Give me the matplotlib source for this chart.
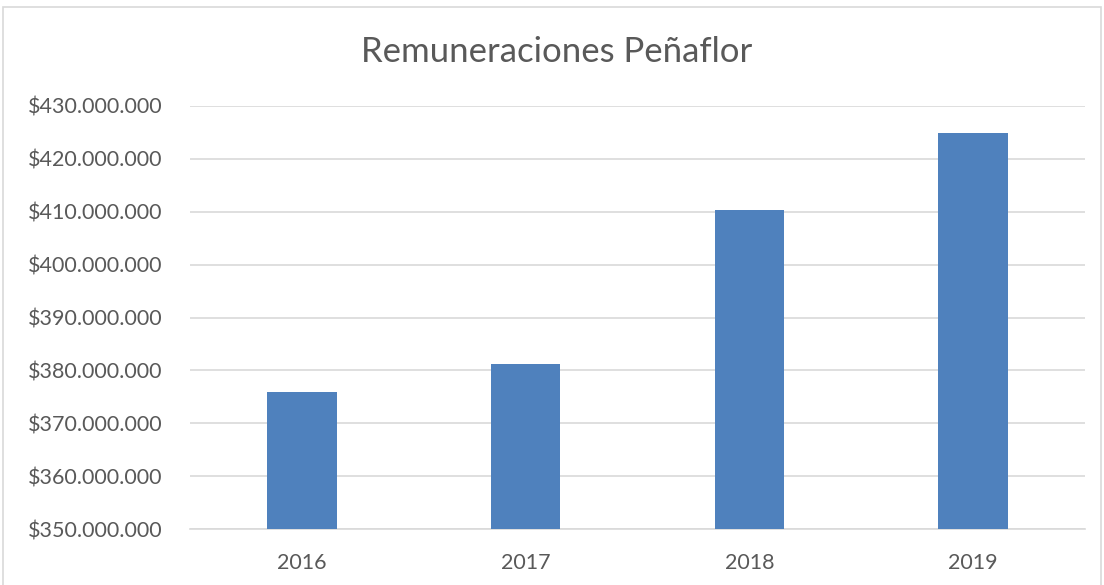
import matplotlib
matplotlib.use("Agg")
import matplotlib.pyplot as plt
from matplotlib.ticker import FuncFormatter, MultipleLocator
from matplotlib.patches import Rectangle

years = ["2016", "2017", "2018", "2019"]
values = [376.0e6, 381.2e6, 410.3e6, 424.9e6]
title = "Remuneraciones Peñaflor"

plt.rcParams['font.family'] = ['Lato', 'DejaVu Sans']
text_color = "#595959"

fig = plt.figure(figsize=(11.04, 5.85), dpi=100)
fig.patches.append(Rectangle((3/1104, -0.05), 1 - 6/1104, 1.05 - 7/585, transform=fig.transFigure,
                             fill=False, edgecolor="#D9D9D9", linewidth=1.2))
ax = fig.add_axes([190/1104, 1 - 529/585, (1085 - 190)/1104, (529 - 106)/585])

x = range(len(years))
ax.bar(x, values, width=0.31, color="#4F81BD", zorder=3)
ax.set_xlim(-0.5, len(years) - 0.5)
ax.set_ylim(350e6, 430e6)
ax.yaxis.set_major_locator(MultipleLocator(10e6))
ax.yaxis.set_major_formatter(FuncFormatter(lambda v, p: "$" + f"{int(round(v)):,}".replace(",", ".")))
ax.set_xticks(list(x))
ax.set_xticklabels(years)
ax.grid(axis="y", color="#D9D9D9", linewidth=1.2, zorder=0)
for s in ["top", "right", "left"]:
    ax.spines[s].set_visible(False)
ax.spines["bottom"].set_color("#D9D9D9")
ax.spines["bottom"].set_linewidth(1.2)
ax.tick_params(axis="both", length=0, labelsize=15.5, colors=text_color)
ax.tick_params(axis="y", pad=20)
ax.tick_params(axis="x", pad=17)
fig.text(0.5 + 5/1104, 1 - 52/585, title, ha="center", va="center", fontsize=25, color=text_color)

fig.savefig("out.png", dpi=100)
